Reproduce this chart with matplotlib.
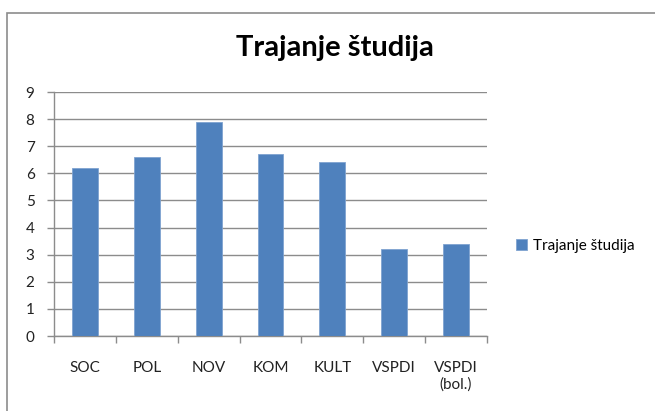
import matplotlib
matplotlib.use("Agg")
from matplotlib import pyplot as plt
from matplotlib.patches import Rectangle
import numpy as np

# data
categories = ["SOC", "POL", "NOV", "KOM", "KULT", "VSPDI", "VSPDI\n(bol.)"]
trajanje = [6.2, 6.6, 7.9, 6.7, 6.4, 3.2, 3.4]
series_name = "Trajanje študija"

plt.rcParams['font.family'] = ['Lato', 'DejaVu Sans']

W, H = 655, 411
fig = plt.figure(figsize=(W / 100, H / 100), dpi=100)

# chart frame (outer border of the Excel chart area)
fig.patches.append(Rectangle((7 / W, -0.05), 1.2, (H - 13) / H + 0.05,
                             transform=fig.transFigure, fill=False,
                             edgecolor="#8c8c8c", linewidth=1.2))

ax = fig.add_axes([54 / W, (H - 336) / H, (487 - 54) / W, (336 - 92) / H])

x = np.arange(len(categories))
ax.bar(x, trajanje, width=0.42, color="#4f81bd", edgecolor="#7fa3d0",
       linewidth=0.6, label=series_name, zorder=3)

ax.set_xlim(-0.5, len(categories) - 0.5)
ax.set_ylim(0, 9)
ax.set_yticks(range(0, 10))
ax.yaxis.grid(True, color="#8c8c8c", linewidth=1.0, zorder=0)

ax.set_xticks(x)
ax.set_xticklabels(categories, fontsize=11, color="#222222", linespacing=1.25)
ax.set_xticks(np.arange(-0.5, len(categories)), minor=True)
ax.tick_params(axis="x", which="major", length=0, pad=18)
ax.tick_params(axis="x", which="minor", length=5, color="#8c8c8c", width=1.0)
ax.tick_params(axis="y", length=5, color="#8c8c8c", width=1.0, pad=9,
               labelsize=11, labelcolor="#222222")

for side in ["top", "right"]:
    ax.spines[side].set_visible(False)
for side in ["left", "bottom"]:
    ax.spines[side].set_color("#8c8c8c")
    ax.spines[side].set_linewidth(1.0)

fig.text(335 / W, 1 - 48 / H, "Trajanje študija", ha="center", va="center",
         fontsize=21, fontweight="bold", color="black")

fig.legend(loc="center left", bbox_to_anchor=(510 / W, 1 - 246 / H),
           frameon=False, fontsize=11, handlelength=0.7, handleheight=0.7,
           handletextpad=0.4, borderaxespad=0)

fig.savefig("out.png", dpi=100)
